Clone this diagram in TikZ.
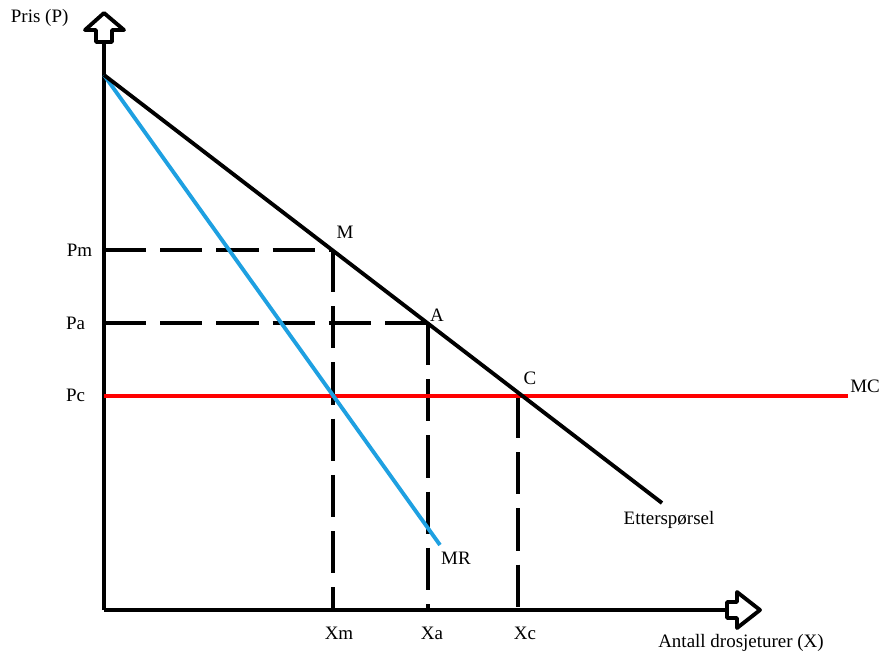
\documentclass[tikz,border=0pt]{standalone}
\usepackage{fontspec}
\setmainfont{Liberation Serif}
\usetikzlibrary{arrows.meta}

\begin{document}
\begin{tikzpicture}[x=0.02cm,y=-0.02cm,line width=2.2pt,
    lbl/.style={font=\fontsize{10.8}{12}\selectfont,inner sep=0pt},
    guide/.style={dash pattern=on 24pt off 8pt},
    blockarrow/.style={line join=round,fill=white}]
  \useasboundingbox (0,0) rectangle (881,653);
  % key points
  \coordinate (O) at (104,610);
  \coordinate (ytop) at (104,42);
  \coordinate (xend) at (727,610);
  \coordinate (top) at (104,75);
  \coordinate (M) at (333,250);
  \coordinate (A) at (428,323);
  \coordinate (C) at (518,396);
  \coordinate (dend) at (662,503);
  \coordinate (mrend) at (440,545);
  \coordinate (mcend) at (848,396);
  \coordinate (Pm) at (104,250);
  \coordinate (Pa) at (104,323);
  \coordinate (Pc) at (104,396);
  \coordinate (Xm) at (333,610);
  \coordinate (Xa) at (428,610);
  \coordinate (Xc) at (518,610);
  % axes with hollow arrows
  \draw (O) -- (ytop);
  \draw (O) -- (xend);
  \draw[blockarrow] (96,42) -- (96,30) -- (85,30) -- (104,13) -- (124,30) -- (112,30) -- (112,42) -- cycle;
  \draw[blockarrow] (727,602) -- (737,602) -- (737,592) -- (760,610) -- (737,628) -- (737,618) -- (727,618) -- cycle;
  % guides
  \draw[guide] (Pm) -- (M);
  \draw[guide] (Pa) -- (A);
  \draw[guide] (M) -- (Xm);
  \draw[guide] (A) -- (Xa);
  \draw[guide] (C) -- (Xc);
  % curves
  \draw[red] (Pc) -- (mcend);
  \draw[color={rgb,255:red,30;green,160;blue,225}] (top) -- (mrend);
  \draw (top) -- (dend);
  % labels
  \node[lbl,anchor=west] at (9,18) {Pris (P)};
  \node[lbl,anchor=north] at (741,632) {Antall drosjeturer (X)};
  \node[lbl,anchor=north] at (339,625) {Xm};
  \node[lbl,anchor=north] at (432,625) {Xa};
  \node[lbl,anchor=north] at (525,625) {Xc};
  \node[lbl,anchor=east] at (94,250) {Pm};
  \node[lbl,anchor=east] at (87,323) {Pa};
  \node[lbl,anchor=east] at (87,395) {Pc};
  \node[lbl] at (345,232) {M};
  \node[lbl] at (437,315) {A};
  \node[lbl] at (530,378) {C};
  \node[lbl] at (865,386) {MC};
  \node[lbl] at (456,558) {MR};
  \node[lbl] at (669,520) {Etterspørsel};
\end{tikzpicture}
\end{document}
